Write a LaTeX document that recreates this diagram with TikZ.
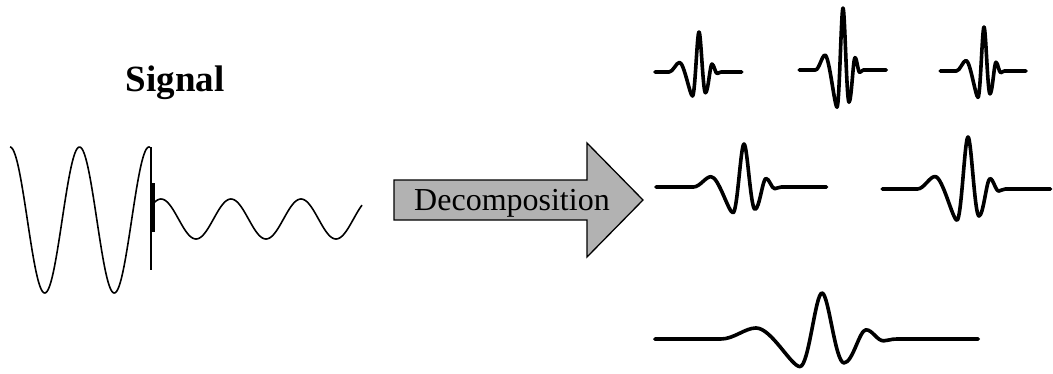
\documentclass[tikz,border=0pt]{standalone}
\usepackage{fontspec}
\setmainfont{Liberation Serif}
\usepackage{tikz}
\definecolor{arrowgray}{rgb}{0.70,0.70,0.70}

% one wavelet: peak x, baseline y, width, height, left end, right end
\newcommand{\wavelet}[6]{%
  \begin{scope}[shift={(#1,#2)},xscale=#3,yscale=-#4]
    \draw[wave] (#5,0) -- (-4.6,0)
      .. controls (-4,0) and (-3.5,0.24) .. (-3,0.24)
      .. controls (-2.3,0.24) and (-1.4,-0.6) .. (-1,-0.6)
      .. controls (-0.6,-0.6) and (-0.3,1) .. (0,1)
      .. controls (0.3,1) and (0.6,-0.52) .. (1,-0.52)
      .. controls (1.4,-0.52) and (1.7,0.2) .. (2,0.2)
      .. controls (2.3,0.2) and (2.5,-0.04) .. (2.8,-0.04)
      .. controls (3.0,-0.04) and (3.1,0) .. (3.4,0) -- (#6,0);
  \end{scope}}

\begin{document}
\begin{tikzpicture}[x=1pt, y=-1pt,
    signal/.style={line width=1.6pt},
    wave/.style={line width=3.6pt, line join=round, line cap=round}]
  \useasboundingbox (0,0) rectangle (1053,373);

  % input signal
  \node[anchor=base, font=\fontsize{37}{40}\selectfont\bfseries] (title) at (175,91) {Signal};
  \draw[signal] plot[domain=10:150, samples=141, smooth] (\x,{220-73*cos(5.18*(\x-10))});
  \draw[line width=1.2pt] (151,147) -- (151,270);
  \draw[line width=3.5pt] (153.5,183) -- (153.5,232);
  \draw[signal] plot[domain=153:362, samples=160, smooth] (\x,{219-20*cos(5.143*(\x-231))});

  % arrow
  \draw[line width=1.3pt, fill=arrowgray, line join=miter]
    (394,180) -- (587,180) -- (587,143) -- (643,200) -- (587,257) -- (587,220) -- (394,220) -- cycle;
  \node[anchor=base, font=\fontsize{32}{36}\selectfont] (decomp) at (512,210) {Decomposition};

  % wavelets
  \wavelet{699}{72}{6.5}{40}{-6.8}{6.6}
  \wavelet{843}{70}{6}{62}{-7.3}{7.2}
  \wavelet{984}{71}{6}{44}{-7.3}{7.0}
  \wavelet{744}{187}{11}{43}{-8}{7.5}
  \wavelet{968}{189}{11}{52}{-7.8}{7.5}
  \wavelet{822}{339}{22}{46}{-7.6}{7.1}
\end{tikzpicture}
\end{document}
